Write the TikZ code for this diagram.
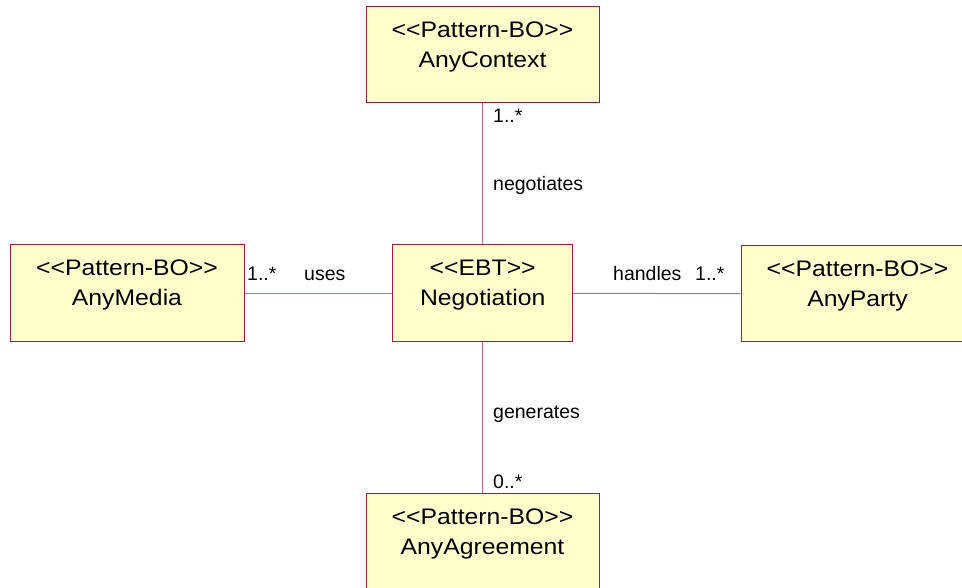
\documentclass[tikz,border=0pt]{standalone}
\usepackage{fontspec}
\setmainfont{Liberation Sans}
\newfontfamily\boxfont{Liberation Sans}[FakeStretch=1.1]
\definecolor{boxfill}{RGB}{255,255,204}
\definecolor{boxline}{RGB}{165,25,70}
\definecolor{conline}{RGB}{205,100,140}
\tikzset{
  umlbox/.style={draw=boxline, fill=boxfill, line width=1pt, inner sep=0pt, rectangle},
  boxtxt/.style={inner sep=0pt, anchor=base, font=\boxfont\fontsize{22.5}{27}\selectfont},
  lbl/.style={inner sep=0pt, anchor=base west, font=\fontsize{19.5}{23}\selectfont},
  conn/.style={draw=conline, line width=1pt}
}
\begin{document}
\begin{tikzpicture}[x=1pt, y=-1pt]
\useasboundingbox (0,0) rectangle (962,588);
\clip (0,0) rectangle (962,588);
\fill[white] (0,0) rectangle (962,588);
% boxes
\node[umlbox, minimum width=233pt, minimum height=96pt] (ctx) at (482.5,55) {};
\node[umlbox, minimum width=180pt, minimum height=96.7pt] (neg) at (482.7,293.3) {};
\node[umlbox, minimum width=234pt, minimum height=96.7pt] (media) at (127,293.3) {};
\node[umlbox, minimum width=233pt, minimum height=96pt] (party) at (857.5,293.7) {};
\node[umlbox, minimum width=233pt, minimum height=96pt] (agr) at (482.5,541) {};
% box texts
\node[boxtxt] (ctx1) at (482.5,38) {<<Pattern-BO>>};
\node[boxtxt] (ctx2) at (482.5,68) {AnyContext};
\node[boxtxt] (neg1) at (482.7,276) {<<EBT>>};
\node[boxtxt] (neg2) at (482.7,306) {Negotiation};
\node[boxtxt] (media1) at (127,276) {<<Pattern-BO>>};
\node[boxtxt] (media2) at (127,306) {AnyMedia};
\node[boxtxt] (party1) at (857.5,276.5) {<<Pattern-BO>>};
\node[boxtxt] (party2) at (857.5,306.5) {AnyParty};
\node[boxtxt] (agr1) at (482.5,524) {<<Pattern-BO>>};
\node[boxtxt] (agr2) at (482.5,554) {AnyAgreement};
% connectors
\draw[conn] (ctx.south) -- (ctx.south |- neg.north);
\draw[conn] (media.east) -- (neg.west);
\draw[conn] (neg.east) -- (party.west);
\draw[conn] (agr.north -| neg.south) -- (neg.south);
% labels
\node[lbl] (m1) at (493,123) {1..*};
\node[lbl] (l1) at (493,191) {negotiates};
\node[lbl] (m2) at (247,281) {1..*};
\node[lbl] (l2) at (304,281) {uses};
\node[lbl] (l3) at (613,281) {handles};
\node[lbl] (m3) at (695,281) {1..*};
\node[lbl] (l4) at (493,418) {generates};
\node[lbl] (m4) at (493,488) {0..*};
\end{tikzpicture}
\end{document}
